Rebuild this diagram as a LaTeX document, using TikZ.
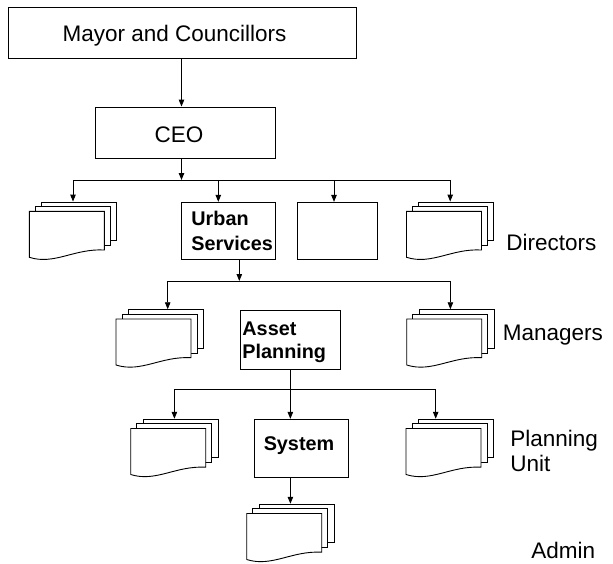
\documentclass[tikz,border=0pt]{standalone}
\usepackage{fontspec}
\setmainfont{Liberation Sans}
\usetikzlibrary{arrows.meta}
\begin{document}
\begin{tikzpicture}[x=1pt,y=-1pt, line width=0.9pt,
  box/.style={draw, fill=white, inner sep=0pt},
  lbl/.style={font=\fontsize{22.5}{27}\selectfont, inner sep=0pt},
  btxt/.style={font=\fontsize{19.8}{24}\selectfont\bfseries, inner sep=0pt},
  arr/.style={-{Triangle[length=7pt,width=5.5pt]}},
  docs/.pic={
    \draw[fill=white] (12.4,-9.3) rectangle (87.4,29.4);
    \draw[fill=white] (6.2,-4.65) rectangle (81.2,34.05);
    \draw[fill=white] (0,0) -- (75,0) -- (75,38.7) .. controls (45,37) and (25,54) .. (0,46) -- cycle;
    \node[inner sep=0pt, minimum width=87.4pt, minimum height=58.3pt] (-n) at (43.7,19.85) {};
  }]
\fill[white] (0,0) rectangle (613,563);
\useasboundingbox (0,0) rectangle (613,563);

% boxes
\node[box, minimum width=348pt, minimum height=51pt] (mayor) at (182,32.5) {};
\node[box, minimum width=180pt, minimum height=51pt] (ceo) at (185,132.5) {};
\node[box, minimum width=94pt, minimum height=57pt] (us) at (228.7,230.8) {};
\node[box, minimum width=80.4pt, minimum height=57pt] (empty) at (337.5,230.8) {};
\node[box, minimum width=100.7pt, minimum height=58.3pt] (ap) at (290.35,339.85) {};
\node[box, minimum width=94.3pt, minimum height=57.7pt] (sys) at (301.15,448.15) {};

% document stacks
\pic (dirL) at (29.3,211.3) {docs};
\pic (dirR) at (406.5,211.3) {docs};
\pic (mgrL) at (116,319) {docs};
\pic (mgrR) at (406.7,319) {docs};
\pic (plnL) at (130.7,428.5) {docs};
\pic (plnR) at (406,428.5) {docs};
\pic (adm) at (246.7,513.5) {docs};

% texts
\node[lbl, anchor=base] (mayortxt) at (174.5,41) {Mayor and Councillors};
\node[lbl, anchor=base] (ceotxt) at (179,142.5) {CEO};
\node[btxt, anchor=base west] (ust1) at (191,225) {Urban};
\node[btxt, anchor=base west] (ust2) at (191,250) {Services};
\node[btxt, anchor=base west] (apt1) at (242,335) {Asset};
\node[btxt, anchor=base west] (apt2) at (242,358) {Planning};
\node[btxt, anchor=base] (syst) at (299,450.7) {System};
\node[lbl, anchor=base west] (ldir) at (506,250) {Directors};
\node[lbl, anchor=base west] (lmgr) at (502.5,340) {Managers};
\node[lbl, anchor=base west] (lpl1) at (510,446.7) {Planning};
\node[lbl, anchor=base west] (lpl2) at (510,471.7) {Unit};
\node[lbl, anchor=base west] (ladm) at (531,558.5) {Admin};

% connectors
\coordinate (c1) at (181.5,0);
\coordinate (b1) at (181.5,180);
\draw[arr] (mayor.south -| c1) -- (ceo.north -| c1);
\draw[arr] (ceo.south -| c1) -- (b1);
\draw[arr] (b1) -| (dirL-n.north);
\draw[arr] (b1) -| ([xshift=-10.4pt]us.north);
\draw[arr] (b1) -| ([xshift=-3.5pt]empty.north);
\draw[arr] (b1) -| (dirR-n.north);

\coordinate (b2) at (239.3,281);
\draw[arr] ([xshift=10.6pt]us.south) -- (b2);
\draw[arr] (b2) -| ([xshift=8pt]mgrL-n.north);
\draw[arr] (b2) -| (mgrR-n.north);

\coordinate (b3) at (290.35,389.7);
\draw[arr] (ap.south) -- (ap.south |- sys.north);
\draw[arr] (b3) -| (plnL-n.north);
\draw[arr] (b3) -| ([xshift=-14pt]plnR-n.north);
\draw[arr] (adm-n.north |- sys.south) -- (adm-n.north);
\end{tikzpicture}
\end{document}
